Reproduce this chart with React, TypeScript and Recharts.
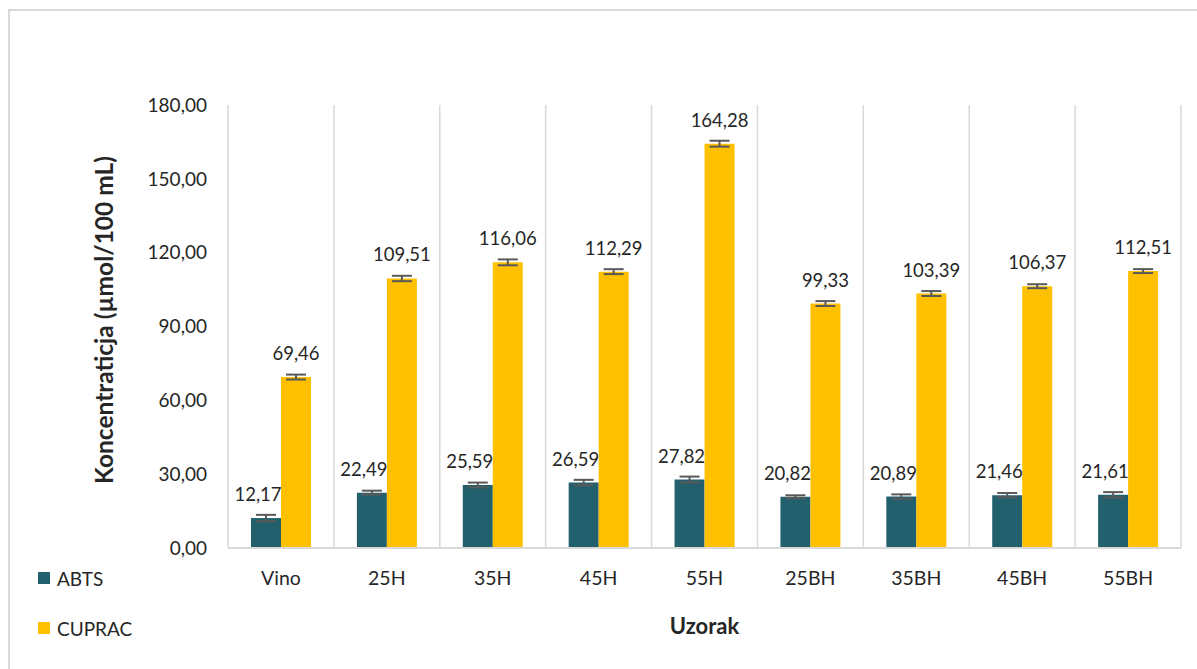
import React from 'react'
import { BarChart, Bar, XAxis, YAxis, CartesianGrid, Legend, LabelList, ErrorBar, Label } from 'recharts'

// sample names and measured values (comma decimals in the labels)
const categories = ['Vino', '25H', '35H', '45H', '55H', '25BH', '35BH', '45BH', '55BH']
const abtsValues = [12.17, 22.49, 25.59, 26.59, 27.82, 20.82, 20.89, 21.46, 21.61]
const cupracValues = [69.46, 109.51, 116.06, 112.29, 164.28, 99.33, 103.39, 106.37, 112.51]
const abtsErrors = [1.3, 0.8, 1.0, 1.1, 1.2, 0.6, 0.9, 0.9, 1.1]
const cupracErrors = [1.0, 1.1, 1.2, 1.0, 1.2, 1.0, 1.0, 0.8, 0.8]
const yTicks = [0, 30, 60, 90, 120, 150, 180]

const seriesNames = { abts: 'ABTS', cuprac: 'CUPRAC' }
const COLORS = { abts: '#22606E', cuprac: '#FFC000' }

const data = categories.map((name, i) => ({
  name,
  abts: abtsValues[i],
  cuprac: cupracValues[i],
  abtsErr: abtsErrors[i],
  cupracErr: cupracErrors[i]
}))

const fmt = (v: number) => v.toFixed(2).replace('.', ',')
const FONT = 'Lato, "Open Sans", sans-serif'
const TEXT = '#262626'

const makeValueLabel = (dx: number) => (props: any) => {
  const { x, y, width, value } = props
  return (
    <text x={x + width / 2 + dx} y={y - 24} textAnchor="middle" dominantBaseline="central"
      fontSize={18.5} fill={TEXT} fontFamily={FONT}>
      {fmt(value)}
    </text>
  )
}

const LegendContent = ({ payload }: any) => (
  <div style={{ fontFamily: FONT, fontSize: 19, color: TEXT }}>
    {(payload || []).map((p: any) => (
      <div key={p.value} style={{ display: 'flex', alignItems: 'center', height: 50 }}>
        <span style={{ width: 12, height: 12, background: p.color, display: 'inline-block', marginRight: 7 }} />
        {p.value}
      </div>
    ))}
  </div>
)

export default function App() {
  return (
    <div style={{ position: 'absolute', left: 0, top: 0, width: 1197, height: 669, background: '#fff', overflow: 'hidden' }}>
      {/* outer frame */}
      <div style={{ position: 'absolute', left: 8, top: 9, width: 1189, height: 660, borderTop: '2px solid #d9d9d9', borderLeft: '2px solid #d9d9d9' }} />
      <BarChart width={1197} height={669} data={data} barSize={30} barGap={0}
        margin={{ top: 105, right: 16, bottom: 0, left: 0 }}
        style={{ fontFamily: FONT }}>
        <CartesianGrid horizontal={false} stroke="#d9d9d9" strokeWidth={1.5}
          verticalCoordinatesGenerator={({ offset }: any) =>
            categories.map((_, i) => offset.left + (i * offset.width) / categories.length).concat(offset.left + offset.width)} />
        <XAxis dataKey="name" height={121} tickLine={false} tickMargin={17}
          axisLine={{ stroke: '#d9d9d9', strokeWidth: 2 }}
          tick={{ fontSize: 19.5, fill: TEXT, fontFamily: FONT }}>
          <Label content={({ viewBox }: any) => (
            <text x={viewBox.x + viewBox.width / 2} y={viewBox.y + 77} textAnchor="middle" dominantBaseline="central"
              fontSize={22} fontWeight="bold" fill={TEXT} fontFamily={FONT}>Uzorak</text>
          )} />
        </XAxis>
        <YAxis width={228} domain={[0, 180]} ticks={yTicks} tickFormatter={fmt}
          axisLine={false} tickLine={false} tickMargin={15}
          tick={{ fontSize: 19, fill: TEXT, fontFamily: FONT }}>
          <Label content={({ viewBox }: any) => {
            const cx = 103
            const cy = 320
            return (
              <text x={cx} y={cy} transform={`rotate(-90, ${cx}, ${cy})`} textAnchor="middle" dominantBaseline="central"
                fontSize={24.5} fontWeight="bold" fill={TEXT} fontFamily={FONT}>Koncentraticja (µmol/100 mL)</text>
            )
          }} />
        </YAxis>
        <Legend layout="vertical" align="center" verticalAlign="middle" content={<LegendContent />}
          wrapperStyle={{ left: 38, top: 553, width: 140, height: 100 }} />
        <Bar dataKey="abts" name={seriesNames.abts} fill={COLORS.abts} isAnimationActive={false}>
          <ErrorBar dataKey="abtsErr" width={10} strokeWidth={2} stroke="#595959" />
          <LabelList dataKey="abts" content={makeValueLabel(-8)} />
        </Bar>
        <Bar dataKey="cuprac" name={seriesNames.cuprac} fill={COLORS.cuprac} isAnimationActive={false}>
          <ErrorBar dataKey="cupracErr" width={10} strokeWidth={2} stroke="#595959" />
          <LabelList dataKey="cuprac" content={makeValueLabel(0)} />
        </Bar>
      </BarChart>
    </div>
  )
}
